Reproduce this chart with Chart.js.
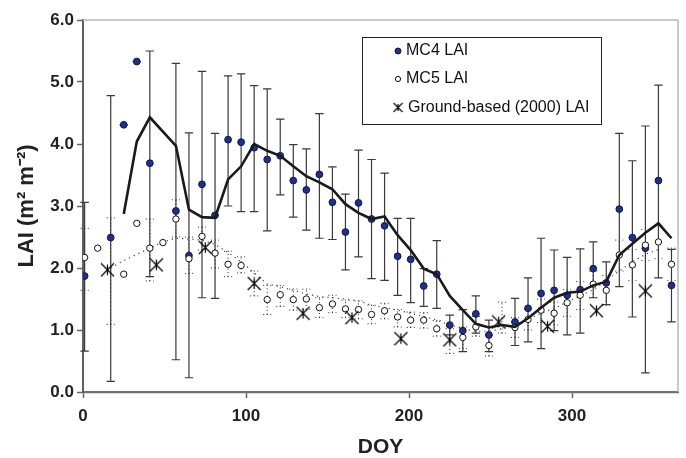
<!DOCTYPE html>
<html>
<head>
<meta charset="utf-8">
<script src="https://cdn.jsdelivr.net/npm/chart.js@4.4.1/dist/chart.umd.min.js"></script>
<style>
  html, body { margin: 0; padding: 0; background: #fff; }
</style>
</head>
<body>
<canvas id="laiChart" width="686" height="458"></canvas>
<script>
// 8-day composite days
const compositeDoy = [1, 9, 17, 25, 33, 41, 49, 57, 65, 73, 81, 89, 97, 105, 113, 121, 129, 137, 145, 153,
  161, 169, 177, 185, 193, 201, 209, 217, 225, 233, 241, 249, 257, 265, 273, 281, 289, 297, 305, 313,
  321, 329, 337, 345, 353, 361];

// MC4 LAI (filled dots) with error bar ends
const mc4Lai = [1.87, null, 2.49, 4.31, 5.33, 3.69, null, 2.92, 2.20, 3.35, 2.85, 4.07, 4.03, 3.94, 3.75, 3.81, 3.41, 3.26, 3.51, 3.06,
  2.58, 3.05, 2.79, 2.68, 2.19, 2.14, 1.71, 1.90, 1.08, 0.99, 1.26, 0.92, null, 1.13, 1.35, 1.59, 1.64, 1.56, 1.65, 1.99,
  1.76, 2.95, 2.49, 2.32, 3.41, 1.72];
const mc4Low = [0.66, null, 0.17, 4.31, 5.33, 1.86, null, 0.52, 0.23, 1.52, 1.51, 3.00, 2.91, 2.91, 2.60, 3.18, 2.82, 2.61, 2.48, 2.46,
  1.97, 2.18, 1.83, 1.80, 1.56, 1.44, 1.38, 1.35, 0.92, 0.65, 0.95, 0.65, null, 0.75, 0.81, 0.70, 0.99, 0.92, 0.95, 1.52,
  1.41, 1.70, 1.21, 0.31, 1.84, 1.13];
const mc4High = [3.06, null, 4.78, 4.31, 5.33, 5.50, null, 5.30, 4.18, 5.17, 4.17, 5.10, 5.13, 4.94, 4.89, 4.40, 3.99, 3.92, 4.49, 3.63,
  3.19, 3.90, 3.75, 3.53, 2.80, 2.80, 1.99, 2.44, 1.24, 1.33, 1.55, 1.16, null, 1.51, 1.84, 2.48, 2.29, 2.17, 2.31, 2.42,
  2.10, 4.17, 3.73, 4.29, 4.95, 2.30];
// smoothed MC4 (solid line)
const mc4Smooth = [null, null, null, 2.87, 4.04, 4.43, null, 3.97, 2.94, 2.82, 2.81, 3.43, 3.64, 4.00, 3.89, 3.81, 3.64, 3.48, 3.38, 3.27,
  3.03, 2.89, 2.79, 2.83, 2.53, 2.29, 1.99, 1.90, 1.55, 1.32, 1.10, 1.04, 1.08, 1.05, 1.19, 1.36, 1.52, 1.60, 1.62, 1.72,
  1.78, 2.21, 2.39, 2.57, 2.72, 2.48];

// MC5 LAI (open circles) with dotted error bar ends
const mc5Lai = [2.17, 2.32, null, 1.90, 2.72, 2.32, 2.41, 2.79, 2.15, 2.51, 2.24, 2.06, 2.04, null, 1.49, 1.57, 1.49, 1.50, 1.36, 1.42,
  1.34, 1.33, 1.25, 1.31, 1.21, 1.16, 1.16, 1.02, null, 0.88, 1.05, 0.75, null, 1.04, 1.17, 1.32, 1.27, 1.44, 1.56, 1.74,
  1.64, 2.21, 2.05, 2.37, 2.42, 2.06];
const mc5Low = [1.64, null, 1.09, null, null, 1.79, null, 2.50, 1.91, 2.29, 2.00, 1.86, 1.92, 1.55, 1.25, 1.38, 1.32, 1.33, 1.20, 1.28,
  1.20, 1.18, 1.10, 1.18, 1.05, 1.04, 1.03, 0.90, 0.62, 0.70, 0.90, 0.58, 0.95, 0.88, 1.00, 1.12, 1.08, 1.22, 1.33, 1.52,
  1.40, 1.95, 1.80, 2.12, 2.15, 1.80];
const mc5High = [2.64, null, 2.81, null, null, 2.79, null, 3.10, 2.50, 2.66, 2.45, 2.27, 2.18, 1.95, 1.72, 1.72, 1.66, 1.66, 1.52, 1.56,
  1.48, 1.47, 1.40, 1.43, 1.33, 1.29, 1.28, 1.15, 1.02, 1.05, 1.22, 0.92, 1.45, 1.20, 1.34, 1.50, 1.45, 1.65, 1.78, 1.95,
  1.88, 2.45, 2.30, 2.62, 2.68, 2.32];
// smoothed MC5 (dotted line)
const mc5Smooth = [null, null, 2.00, 2.12, 2.22, 2.32, 2.42, 2.48, 2.47, 2.45, 2.38, 2.25, 2.10, 1.92, 1.74, 1.70, 1.64, 1.58, 1.54, 1.52,
  1.50, 1.47, 1.40, 1.36, 1.32, 1.27, 1.22, 1.16, 1.08, 1.02, 0.98, 0.98, 1.02, 1.08, 1.17, 1.27, 1.35, 1.45, 1.55, 1.65,
  1.80, 1.95, 2.10, 2.22, 2.30, null];

// Ground-based (2000) LAI
const groundDoy = [15, 45, 75, 105, 135, 165, 195, 225, 255, 285, 315, 345];
const groundLai = [1.97, 2.05, 2.33, 1.75, 1.27, 1.20, 0.86, 0.84, 1.13, 1.06, 1.31, 1.63];

const xTicks = [0, 100, 200, 300];

const FONT = "'Liberation Sans', Arial, Helvetica, sans-serif";

function pts(xs, ys) {
  return xs.map((d, i) => ({ x: d, y: ys[i] })).filter(p => p.y != null);
}

// asterisk marker (X with vertical stroke)
function makeStar(size, lw) {
  const c = document.createElement("canvas");
  c.width = size; c.height = size;
  const g = c.getContext("2d");
  const m = size / 2, r = size / 2 - 1;
  g.strokeStyle = "#000";
  g.lineWidth = lw;
  g.beginPath();
  g.moveTo(m - r, m - r); g.lineTo(m + r, m + r);
  g.moveTo(m + r, m - r); g.lineTo(m - r, m + r);
  g.moveTo(m, m - r * 0.8); g.lineTo(m, m + r * 0.8);
  g.stroke();
  return c;
}
const starMark = makeStar(15, 1.2);
const starSmall = makeStar(11, 1.1);

// error bars drawn under the points
const errorBars = {
  id: "errorBars",
  beforeDatasetsDraw(chart) {
    const { ctx, scales: { x, y } } = chart;
    chart.data.datasets.forEach(ds => {
      if (!ds.errLow) return;
      ctx.save();
      ctx.strokeStyle = ds.errColor;
      ctx.lineWidth = ds.errWidth;
      ctx.setLineDash(ds.errDash || []);
      const cap = ds.errCap;
      compositeDoy.forEach((d, k) => {
        const lo = ds.errLow[k], hi = ds.errHigh[k];
        if (lo == null || hi == null) return;
        const px = x.getPixelForValue(d);
        const pLo = y.getPixelForValue(lo), pHi = y.getPixelForValue(hi);
        ctx.beginPath();
        ctx.moveTo(px, pLo); ctx.lineTo(px, pHi);
        ctx.moveTo(px - cap, pLo); ctx.lineTo(px + cap, pLo);
        ctx.moveTo(px - cap, pHi); ctx.lineTo(px + cap, pHi);
        ctx.stroke();
      });
      ctx.restore();
    });
  }
};

// light frame on top and right of plot
const frame = {
  id: "frame",
  beforeDatasetsDraw(chart) {
    const { ctx, chartArea: a } = chart;
    ctx.save();
    ctx.strokeStyle = "#b8b8b8";
    ctx.lineWidth = 1.5;
    ctx.beginPath();
    ctx.moveTo(a.left, a.top);
    ctx.lineTo(a.right, a.top);
    ctx.lineTo(a.right, a.bottom);
    ctx.stroke();
    ctx.restore();
  }
};

// boxed legend inside the plot
const boxLegend = {
  id: "boxLegend",
  afterDraw(chart) {
    const ctx = chart.ctx;
    const bx = 362, by = 37, bw = 239, bh = 87;
    ctx.save();
    ctx.fillStyle = "#fff";
    ctx.fillRect(bx, by, bw, bh);
    ctx.strokeStyle = "#222";
    ctx.lineWidth = 1;
    ctx.strokeRect(bx + 0.5, by + 0.5, bw, bh);
    ctx.font = "16px " + FONT;
    ctx.fillStyle = "#111";
    ctx.textBaseline = "middle";
    const mx = 398, tx = 406;
    const rows = [51, 79, 107.5];
    // MC4
    ctx.beginPath();
    ctx.arc(mx, rows[0], 3, 0, Math.PI * 2);
    ctx.fillStyle = "#1f2f8a";
    ctx.fill();
    ctx.strokeStyle = "#0e1850";
    ctx.stroke();
    // MC5
    ctx.beginPath();
    ctx.arc(mx, rows[1], 2.6, 0, Math.PI * 2);
    ctx.fillStyle = "#fff";
    ctx.fill();
    ctx.strokeStyle = "#111";
    ctx.stroke();
    // Ground
    ctx.drawImage(starSmall, mx - 5.5, rows[2] - 5.5);
    ctx.fillStyle = "#111";
    ctx.fillText("MC4 LAI", tx, rows[0]);
    ctx.fillText("MC5 LAI", tx, rows[1]);
    ctx.fillText("Ground-based (2000) LAI", tx + 2, rows[2]);
    ctx.restore();
  }
};

const ctx = document.getElementById("laiChart").getContext("2d");

const laiChart = new Chart(ctx, {
  type: "scatter",
  data: {
    datasets: [
      {
        label: "MC4 smoothed",
        data: pts(compositeDoy, mc4Smooth),
        showLine: true,
        spanGaps: true,
        borderColor: "#1a1a1a",
        borderWidth: 2.6,
        pointRadius: 0,
        tension: 0
      },
      {
        label: "Ground-based (2000) LAI",
        data: pts(groundDoy, groundLai),
        pointStyle: starMark,
        pointRadius: 7
      },
      {
        label: "MC5 LAI",
        data: pts(compositeDoy, mc5Lai),
        pointStyle: "circle",
        pointRadius: 3.2,
        pointBackgroundColor: "#fff",
        pointBorderColor: "#111",
        pointBorderWidth: 1,
        errLow: mc5Low,
        errHigh: mc5High,
        errColor: "#222",
        errWidth: 1,
        errDash: [1, 2.6],
        errCap: 4
      },
      {
        label: "MC4 LAI",
        data: pts(compositeDoy, mc4Lai),
        pointStyle: "circle",
        pointRadius: 3.4,
        pointBackgroundColor: "#1f2f8a",
        pointBorderColor: "#0e1850",
        pointBorderWidth: 1,
        errLow: mc4Low,
        errHigh: mc4High,
        errColor: "#3a3a3a",
        errWidth: 1.2,
        errCap: 4.2
      },
      {
        label: "MC5 smoothed",
        data: pts(compositeDoy, mc5Smooth),
        showLine: true,
        spanGaps: true,
        borderColor: "#444",
        borderWidth: 1.2,
        borderDash: [1.2, 4],
        pointRadius: 0
      }
    ]
  },
  options: {
    responsive: false,
    animation: false,
    events: [],
    layout: { padding: { left: 8, right: 8, top: 20, bottom: 0 } },
    plugins: {
      legend: { display: false },
      tooltip: { enabled: false }
    },
    scales: {
      x: {
        type: "linear",
        min: 0,
        max: 365,
        afterFit: s => { s.height = 66; },
        afterBuildTicks: s => { s.ticks = xTicks.map(v => ({ value: v })); },
        ticks: {
          includeBounds: false,
          color: "#222",
          padding: 8,
          font: { family: FONT, size: 17, weight: "bold" }
        },
        grid: { drawOnChartArea: false, drawTicks: true, tickLength: 6, tickColor: "#666", tickWidth: 1.5 },
        border: { display: true, color: "#707070", width: 2.2 },
        title: {
          display: true,
          text: "DOY",
          color: "#222",
          padding: 0,
          font: { family: FONT, size: 21, weight: "bold", lineHeight: 1 }
        }
      },
      y: {
        min: 0,
        max: 6,
        afterFit: s => { s.width = 75; },
        ticks: {
          stepSize: 1,
          color: "#222",
          padding: 3,
          callback: v => v.toFixed(1),
          font: { family: FONT, size: 17, weight: "bold" }
        },
        grid: { drawOnChartArea: false, drawTicks: true, tickLength: 6, tickColor: "#666", tickWidth: 1.5 },
        border: { display: true, color: "#606060", width: 2 },
        title: {
          display: true,
          text: "LAI (m\u00B2 m\u207B\u00B2)",
          color: "#222",
          padding: { top: 8, bottom: 0 },
          font: { family: FONT, size: 22, weight: "bold", lineHeight: 1 }
        }
      }
    }
  },
  plugins: [errorBars, frame, boxLegend]
});
</script>
</body>
</html>
